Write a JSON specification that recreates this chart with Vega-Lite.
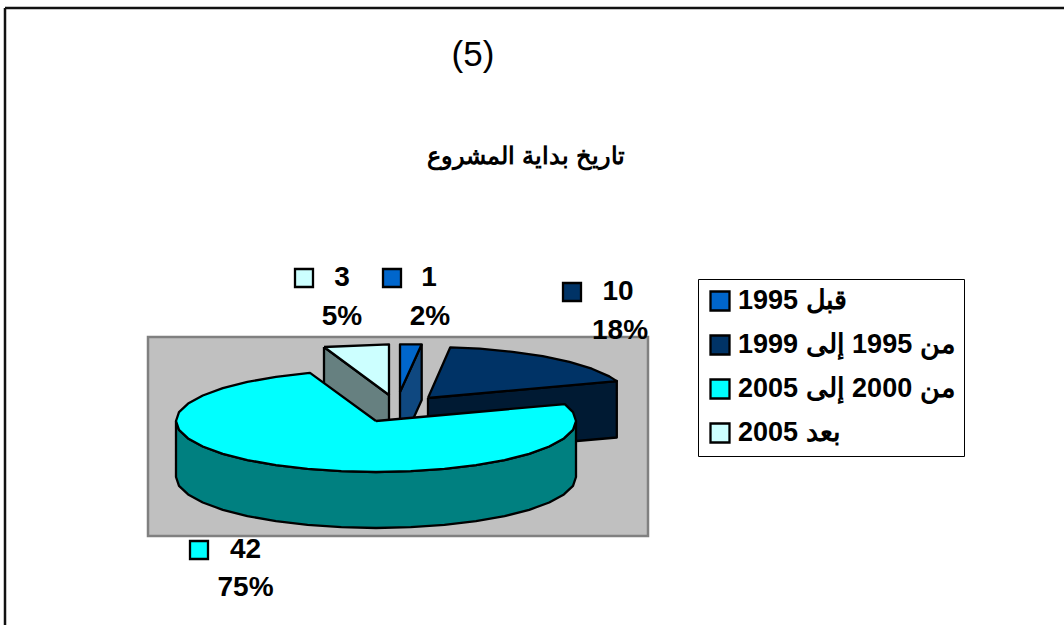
{"$schema":"https://vega.github.io/schema/vega-lite/v6.json","width":1064,"height":625,"autosize":"none","padding":0,"background":"white","view":{"stroke":null},
"datasets":{
"labels":[{"period":"قبل 1995","count":"1","share":"2%","sx":392,"sy":278,"cx":429,"cy":278,"px":430,"py":317},{"period":"من 1995 إلى 1999","count":"10","share":"18%","sx":572,"sy":292,"cx":618,"cy":292,"px":620,"py":331},{"period":"من 2000 إلى 2005","count":"42","share":"75%","sx":199,"sy":550,"cx":245.5,"cy":550,"px":245.5,"py":588},{"period":"بعد 2005","count":"3","share":"5%","sx":304,"sy":278,"cx":342,"cy":278,"px":342,"py":317}],
"shapes":[
{"part":"s2wall","i":1,"x":428,"y":398},{"part":"s2wall","i":2,"x":616.8,"y":381},{"part":"s2wall","i":3,"x":616.8,"y":437.5},{"part":"s2wall","i":4,"x":428,"y":454},{"part":"s2wall","i":5,"x":428,"y":398},
{"part":"s2top","i":1,"x":428,"y":398},{"part":"s2top","i":2,"x":450.3,"y":347.3},{"part":"s2top","i":3,"x":479.8,"y":348.7},{"part":"s2top","i":4,"x":512.5,"y":351.8},{"part":"s2top","i":5,"x":542.7,"y":356.2},{"part":"s2top","i":6,"x":569.4,"y":361.9},{"part":"s2top","i":7,"x":591.8,"y":368.7},{"part":"s2top","i":8,"x":609.3,"y":376.4},{"part":"s2top","i":9,"x":616.8,"y":381.1},{"part":"s2top","i":10,"x":428,"y":398},
{"part":"s1wall","i":1,"x":421.7,"y":344.3},{"part":"s1wall","i":2,"x":400,"y":392},{"part":"s1wall","i":3,"x":400,"y":448},{"part":"s1wall","i":4,"x":421.7,"y":400},{"part":"s1wall","i":5,"x":421.7,"y":344.3},
{"part":"s1top","i":1,"x":400,"y":392},{"part":"s1top","i":2,"x":400,"y":344.3},{"part":"s1top","i":3,"x":421.7,"y":344.3},{"part":"s1top","i":4,"x":400,"y":392},
{"part":"s4wall","i":1,"x":324,"y":347},{"part":"s4wall","i":2,"x":389,"y":395},{"part":"s4wall","i":3,"x":389,"y":451},{"part":"s4wall","i":4,"x":324,"y":403},{"part":"s4wall","i":5,"x":324,"y":347},
{"part":"s4top","i":1,"x":324,"y":347},{"part":"s4top","i":2,"x":389,"y":344.3},{"part":"s4top","i":3,"x":389,"y":395},{"part":"s4top","i":4,"x":324,"y":347},
{"part":"s3wall","i":1,"x":576,"y":421},{"part":"s3wall","i":2,"x":573,"y":429.9},{"part":"s3wall","i":3,"x":563.9,"y":438.4},{"part":"s3wall","i":4,"x":549.2,"y":446.5},{"part":"s3wall","i":5,"x":529.2,"y":453.8},{"part":"s3wall","i":6,"x":504.6,"y":460.1},{"part":"s3wall","i":7,"x":476,"y":465.2},{"part":"s3wall","i":8,"x":444.4,"y":468.9},{"part":"s3wall","i":9,"x":410.7,"y":471.2},{"part":"s3wall","i":10,"x":376,"y":472},{"part":"s3wall","i":11,"x":341.3,"y":471.2},{"part":"s3wall","i":12,"x":307.6,"y":468.9},{"part":"s3wall","i":13,"x":276,"y":465.2},{"part":"s3wall","i":14,"x":247.4,"y":460.1},{"part":"s3wall","i":15,"x":222.8,"y":453.8},{"part":"s3wall","i":16,"x":202.8,"y":446.5},{"part":"s3wall","i":17,"x":188.1,"y":438.4},{"part":"s3wall","i":18,"x":179,"y":429.9},{"part":"s3wall","i":19,"x":176,"y":421},
{"part":"s3wall","i":20,"x":176,"y":477},{"part":"s3wall","i":21,"x":179,"y":485.9},{"part":"s3wall","i":22,"x":188.1,"y":494.4},{"part":"s3wall","i":23,"x":202.8,"y":502.5},{"part":"s3wall","i":24,"x":222.8,"y":509.8},{"part":"s3wall","i":25,"x":247.4,"y":516.1},{"part":"s3wall","i":26,"x":276,"y":521.2},{"part":"s3wall","i":27,"x":307.6,"y":524.9},{"part":"s3wall","i":28,"x":341.3,"y":527.2},{"part":"s3wall","i":29,"x":376,"y":528},{"part":"s3wall","i":30,"x":410.7,"y":527.2},{"part":"s3wall","i":31,"x":444.4,"y":524.9},{"part":"s3wall","i":32,"x":476,"y":521.2},{"part":"s3wall","i":33,"x":504.6,"y":516.1},{"part":"s3wall","i":34,"x":529.2,"y":509.8},{"part":"s3wall","i":35,"x":549.2,"y":502.5},{"part":"s3wall","i":36,"x":563.9,"y":494.4},{"part":"s3wall","i":37,"x":573,"y":485.9},{"part":"s3wall","i":38,"x":576,"y":477},{"part":"s3wall","i":39,"x":576,"y":421},
{"part":"s3top","i":1,"x":376,"y":421},{"part":"s3top","i":2,"x":564.8,"y":404.1},{"part":"s3top","i":3,"x":573,"y":412.1},{"part":"s3top","i":4,"x":576,"y":421},{"part":"s3top","i":5,"x":573,"y":429.9},{"part":"s3top","i":6,"x":563.9,"y":438.4},{"part":"s3top","i":7,"x":549.2,"y":446.5},{"part":"s3top","i":8,"x":529.2,"y":453.8},{"part":"s3top","i":9,"x":504.6,"y":460.1},{"part":"s3top","i":10,"x":476,"y":465.2},{"part":"s3top","i":11,"x":444.4,"y":468.9},{"part":"s3top","i":12,"x":410.7,"y":471.2},{"part":"s3top","i":13,"x":376,"y":472},{"part":"s3top","i":14,"x":341.3,"y":471.2},{"part":"s3top","i":15,"x":307.6,"y":468.9},{"part":"s3top","i":16,"x":276,"y":465.2},{"part":"s3top","i":17,"x":247.4,"y":460.1},{"part":"s3top","i":18,"x":222.8,"y":453.8},{"part":"s3top","i":19,"x":202.8,"y":446.5},{"part":"s3top","i":20,"x":188.1,"y":438.4},{"part":"s3top","i":21,"x":179,"y":429.9},{"part":"s3top","i":22,"x":176,"y":421},{"part":"s3top","i":23,"x":179,"y":412.1},{"part":"s3top","i":24,"x":188.1,"y":403.6},{"part":"s3top","i":25,"x":202.8,"y":395.5},{"part":"s3top","i":26,"x":222.8,"y":388.2},{"part":"s3top","i":27,"x":247.4,"y":381.9},{"part":"s3top","i":28,"x":276,"y":376.8},{"part":"s3top","i":29,"x":307.6,"y":373.1},{"part":"s3top","i":30,"x":310,"y":372.9},{"part":"s3top","i":31,"x":376,"y":421}
]},
"layer":[
{"data":{"values":[{"a":148,"b":648,"c":337,"d":536}]},"mark":{"type":"rect","fill":"#c0c0c0","stroke":"#808080","strokeWidth":2.5},"encoding":{"x":{"field":"a","type":"quantitative","scale":{"domain":[0,1064],"nice":false,"zero":false},"axis":null},"x2":{"field":"b"},"y":{"field":"c","type":"quantitative","scale":{"domain":[625,0],"nice":false,"zero":false},"axis":null},"y2":{"field":"d"}}},
{"data":{"values":[{"a":5,"b":1064,"c":8,"d":8},{"a":5,"b":5,"c":8,"d":625}]},"mark":{"type":"rule","stroke":"#111111","strokeWidth":2.5},"encoding":{"x":{"field":"a","type":"quantitative"},"x2":{"field":"b"},"y":{"field":"c","type":"quantitative"},"y2":{"field":"d"}}},
{"data":{"name":"shapes"},"mark":{"type":"line","filled":true,"stroke":"black","strokeWidth":2.3,"strokeJoin":"round"},"encoding":{"x":{"field":"x","type":"quantitative"},"y":{"field":"y","type":"quantitative"},"order":{"field":"i","type":"quantitative"},"color":{"field":"part","type":"nominal","legend":null,"sort":null,"scale":{"domain":["s2wall","s2top","s1wall","s1top","s4wall","s4top","s3wall","s3top"],"range":["#001a33","#003366","#0f4880","#0066cc","#668080","#ccffff","#008080","#00ffff"]}}}},
{"data":{"name":"labels"},"mark":{"type":"point","filled":true,"shape":"square","size":324,"stroke":"black","strokeWidth":2.3,"opacity":1},"encoding":{"x":{"field":"sx","type":"quantitative"},"y":{"field":"sy","type":"quantitative"},"color":{"field":"period","type":"nominal","sort":null,"scale":{"domain":["قبل 1995","من 1995 إلى 1999","من 2000 إلى 2005","بعد 2005"],"range":["#0066cc","#003366","#00ffff","#ccffff"]},"legend":{"orient":"none","legendX":698,"legendY":279,"title":null,"symbolType":"square","symbolSize":361,"symbolStrokeColor":"black","symbolStrokeWidth":2.3,"symbolOpacity":1,"labelFont":"Liberation Sans","labelFontWeight":"bold","labelFontSize":27,"labelColor":"black","labelLimit":400,"labelOffset":4.5,"strokeColor":"black","fillColor":"white","padding":8.5,"rowPadding":15,"cornerRadius":0,"encoding":{"legend":{"update":{"strokeWidth":{"value":2.3}}}}}}}},
{"data":{"name":"labels"},"mark":{"type":"text","font":"Liberation Sans","fontWeight":"bold","fontSize":28,"color":"black"},"encoding":{"x":{"field":"cx","type":"quantitative"},"y":{"field":"cy","type":"quantitative"},"text":{"field":"count"}}},
{"data":{"name":"labels"},"mark":{"type":"text","font":"Liberation Sans","fontWeight":"bold","fontSize":28,"color":"black"},"encoding":{"x":{"field":"px","type":"quantitative"},"y":{"field":"py","type":"quantitative"},"text":{"field":"share"}}},
{"data":{"values":[{"t":"(5)","x":473,"y":55}]},"mark":{"type":"text","font":"Liberation Sans","fontSize":35,"color":"black"},"encoding":{"x":{"field":"x","type":"quantitative"},"y":{"field":"y","type":"quantitative"},"text":{"field":"t"}}},
{"data":{"values":[{"t":"تاريخ بداية المشروع","x":526,"y":157}]},"mark":{"type":"text","font":"Liberation Sans","fontWeight":"bold","fontSize":24,"color":"black"},"encoding":{"x":{"field":"x","type":"quantitative"},"y":{"field":"y","type":"quantitative"},"text":{"field":"t"}}}
],
"resolve":{"scale":{"color":"independent"}}}
